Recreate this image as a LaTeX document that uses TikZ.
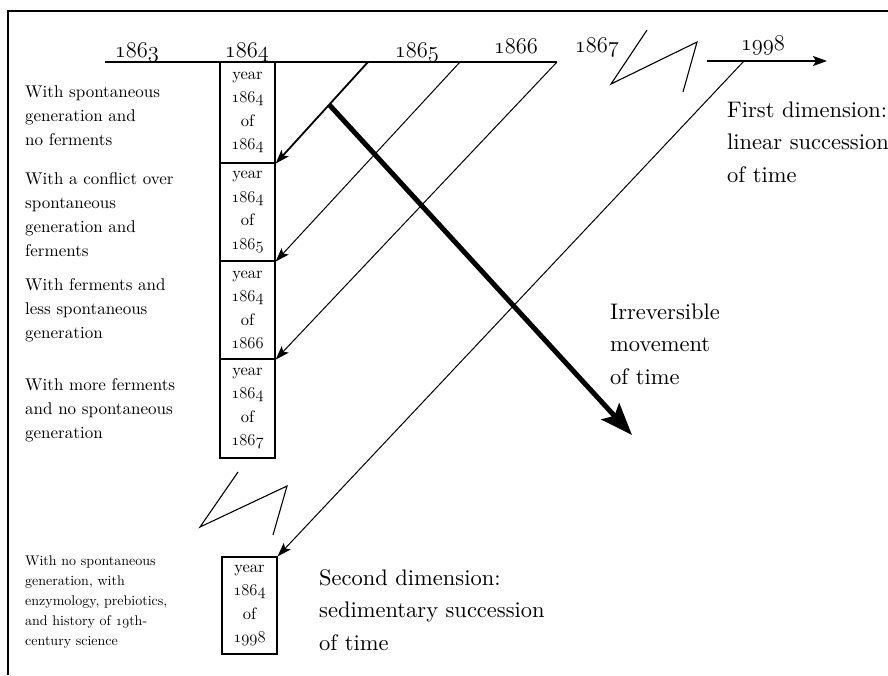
\documentclass[tikz,border=0pt]{standalone}
\usepackage{fontspec}
\setmainfont{lmroman10-regular.otf}
\usetikzlibrary{arrows.meta,calc}
\usepackage{fix-cm}
\newcommand\yr[1]{{\fontencoding{OML}\fontfamily{cmm}\fontseries{m}\fontshape{it}\selectfont #1}}
\tikzset{
  lbl/.style={anchor=base west, inner sep=0pt, align=left, text width=200pt, font=\fontsize{17}{24.2}\selectfont},
  smalllbl/.style={anchor=base west, inner sep=0pt, align=left, text width=200pt, font=\fontsize{14}{20}\selectfont},
  yearbox/.style={draw, line width=1.2pt, minimum width=55pt, inner sep=0pt, align=center, font=\fontsize{16.5}{23.5}\selectfont},
  bigtxt/.style={anchor=base west, inner sep=0pt, align=left, text width=240pt, font=\fontsize{22.5}{32.5}\selectfont},
  yearlbl/.style={anchor=base, inner sep=0pt, font=\fontsize{22.5}{26}\selectfont},
  thinarr/.style={line width=1pt, -{Stealth[length=14pt,width=9.5pt,inset=3pt]}},
  bigarr/.style={line width=5pt, -{Stealth[length=32pt,width=24pt,inset=6pt]}},
  axis/.style={line width=1.5pt},
  zig/.style={line width=1.1pt},
}
\begin{document}
\begin{tikzpicture}[x=1pt,y=-1pt]
\useasboundingbox (0,0) rectangle (888,675);
% frame
\draw[line width=2.5pt] (8,675) -- (8,11) -- (888,11);

% timeline coordinates
\coordinate (tl0) at (105,62);
\coordinate (s1) at (368,62);
\coordinate (s2) at (460,62);
\coordinate (s3) at (557,62);
\coordinate (tr0) at (707,61);
\coordinate (s4) at (744,61);
\coordinate (tr1) at (827,61);
\draw[axis] (tl0) -- (s3);
\draw[axis, -{Stealth[length=14pt,width=10pt,inset=3pt]}] (tr0) -- (tr1);

% year labels
\node[yearlbl] (y1863) at (137,57) {\yr{1863}};
\node[yearlbl] (y1864) at (247,57) {\yr{1864}};
\node[yearlbl] (y1865) at (417,57) {\yr{1865}};
\node[yearlbl] (y1866) at (516,53) {\yr{1866}};
\node[yearlbl] (y1867) at (597,52) {\yr{1867}};
\node[yearlbl] (y1998) at (763,50) {\yr{1998}};

% zigzag breaks
\draw[zig] (647,30) -- (611,84) -- (697,42) -- (683,92);
\draw[zig] (238,472) -- (200,527) -- (287,486) -- (273,535);

% boxes
\node[yearbox, minimum height=101pt] (b1) at (247.5,112.5) {year\\\yr{1864}\\of\\\yr{1864}};
\node[yearbox, minimum height=98pt] (b2) at (247.5,212) {year\\\yr{1864}\\of\\\yr{1865}};
\node[yearbox, minimum height=98pt] (b3) at (247.5,310) {year\\\yr{1864}\\of\\\yr{1866}};
\node[yearbox, minimum height=99pt] (b4) at (247.5,408.5) {year\\\yr{1864}\\of\\\yr{1867}};
\node[yearbox, minimum height=97pt] (b5) at (249.5,605.5) {year\\\yr{1864}\\of\\\yr{1998}};

% left labels
\node[lbl] (l1) at (25,97) {With spontaneous\\generation and\\no ferments};
\node[lbl] (l2) at (25,184) {With a conflict over\\spontaneous\\generation and\\ferments};
\node[lbl] (l3) at (25,290) {With ferments and\\less spontaneous\\generation};
\node[lbl] (l4) at (25,390) {With more ferments\\and no spontaneous\\generation};
\node[smalllbl] (l5) at (25,565) {With no spontaneous\\generation, with\\enzymology, prebiotics,\\and history of \yr{19}th-\\century science};

% arrows
\draw[thinarr, line width=1.8pt] (s1) -- (b1.south east);
\draw[thinarr] (s2) -- (b2.south east);
\draw[thinarr] (s3) -- (b3.south east);
\draw[thinarr] (s4) -- (b5.north east);
\coordinate (p) at ($(s1)!0.42!(b1.south east)$);
\coordinate (e) at (632,435);
\draw[bigarr] (p) -- (e);

% right texts
\node[bigtxt] (first) at (727,117) {First dimension:\\linear succession\\of time};
\node[bigtxt] (irr) at (610,319) {Irreversible\\movement\\of time};
\node[bigtxt] (second) at (319,585) {Second dimension:\\sedimentary succession\\of time};
\end{tikzpicture}
\end{document}
